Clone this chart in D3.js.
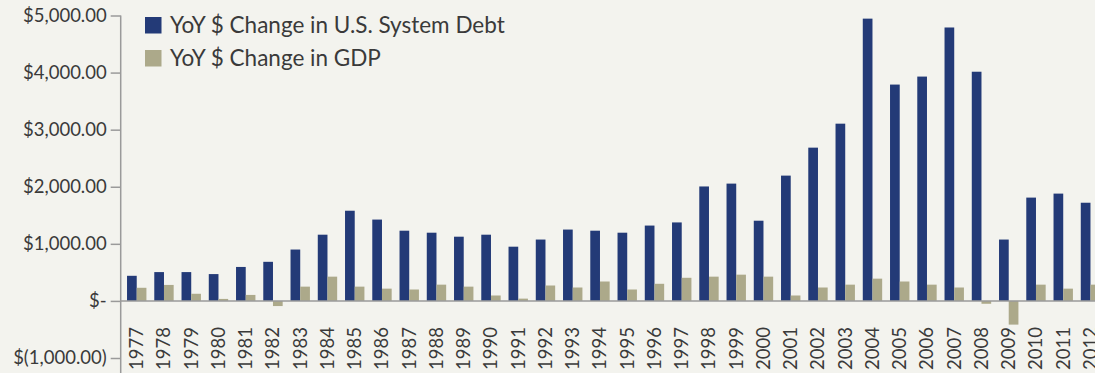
<!DOCTYPE html>
<html>
<head>
<meta charset="utf-8">
<script src="https://cdn.jsdelivr.net/npm/d3@7"></script>
<style>
  html, body { margin: 0; padding: 0; background: #f3f3ee; }
  svg { display: block; }
</style>
</head>
<body>
<svg id="chart" width="1095" height="373"></svg>
<script>
// YoY $ change in U.S. system debt vs. GDP, 1977-2012 (billions)
const years = d3.range(1977, 2013).map(String);
const debtChange = [440, 505, 505, 470, 595, 685, 900, 1160, 1580, 1425, 1230, 1195,
  1125, 1160, 950, 1075, 1250, 1230, 1195, 1320, 1375, 2005, 2055, 1405,
  2195, 2685, 3105, 4945, 3790, 3930, 4790, 4015, 1075, 1810, 1880, 1720];
const gdpChange = [230, 280, 125, 35, 105, -90, 250, 425, 250, 215, 200, 285,
  250, 95, 40, 270, 235, 340, 200, 300, 405, 425, 460, 425,
  95, 235, 285, 390, 340, 285, 235, -50, -415, 285, 215, 285];
const seriesNames = ['YoY $ Change in U.S. System Debt', 'YoY $ Change in GDP'];
const seriesColors = ['#233a77', '#aca98a'];
const yTicks = [-1000, 0, 1000, 2000, 3000, 4000, 5000];

const svg = d3.select('#chart');
const FONT = 'Lato, sans-serif';
const INK = '#3a3a3a';
const AXIS = '#9a9a9a';

const axisX = 120.7;
const y = d3.scaleLinear().domain([-1000, 5000]).range([358, 15.5]);
const x = d3.scaleBand().domain(years).range([123.1, 123.1 + 36 * 27.25]);
const x1 = d3.scaleBand().domain([0, 1]).range([0, x.bandwidth()]).paddingOuter(0.405);

const fmt = v => v === 0 ? '$-' :
  v < 0 ? '$(' + d3.format(',.2f')(-v) + ')' : '$' + d3.format(',.2f')(v);

// y axis
const yAxis = svg.append('g').attr('transform', `translate(${axisX},0)`)
  .call(d3.axisLeft(y).tickValues(yTicks).tickFormat(fmt).tickSize(10).tickPadding(4));
yAxis.select('.domain').remove();
yAxis.selectAll('.tick line').attr('stroke', AXIS).attr('stroke-width', 1.5);
yAxis.selectAll('.tick text').attr('fill', INK).attr('font-family', FONT).attr('font-size', 18.5);
svg.append('line').attr('x1', axisX).attr('x2', axisX).attr('y1', y(5000)).attr('y2', 373)
  .attr('stroke', AXIS).attr('stroke-width', 1.5);

// bars
const rows = years.map((yr, i) => ({ yr, vals: [debtChange[i], gdpChange[i]] }));
const groups = svg.append('g').selectAll('g').data(rows).join('g')
  .attr('transform', d => `translate(${x(d.yr)},0)`);
groups.selectAll('rect').data(d => d.vals.map((v, k) => ({ v, k }))).join('rect')
  .attr('x', d => x1(d.k)).attr('width', x1.bandwidth())
  .attr('y', d => y(Math.max(0, d.v)))
  .attr('height', d => Math.abs(y(d.v) - y(0)))
  .attr('fill', d => seriesColors[d.k]);

// zero line
svg.append('line').attr('x1', axisX).attr('x2', 1095).attr('y1', y(0)).attr('y2', y(0))
  .attr('stroke', AXIS).attr('stroke-width', 1.5);

// year labels
svg.append('g').selectAll('text').data(years).join('text')
  .attr('transform', d => `translate(${x(d) + x.bandwidth() / 2 + 6.5},327) rotate(-90)`)
  .attr('text-anchor', 'end').attr('font-family', FONT).attr('font-size', 18.5)
  .attr('fill', INK).text(d => d);

// legend
const legend = svg.append('g').selectAll('g').data(seriesNames).join('g')
  .attr('transform', (d, i) => `translate(145,${17 + i * 33})`);
legend.append('rect').attr('width', 16.5).attr('height', 16.5).attr('fill', (d, i) => seriesColors[i]);
legend.append('text').attr('x', 25).attr('y', 15.5).attr('font-family', FONT).attr('font-size', 22.5)
  .attr('fill', INK).text(d => d);
</script>
</body>
</html>
